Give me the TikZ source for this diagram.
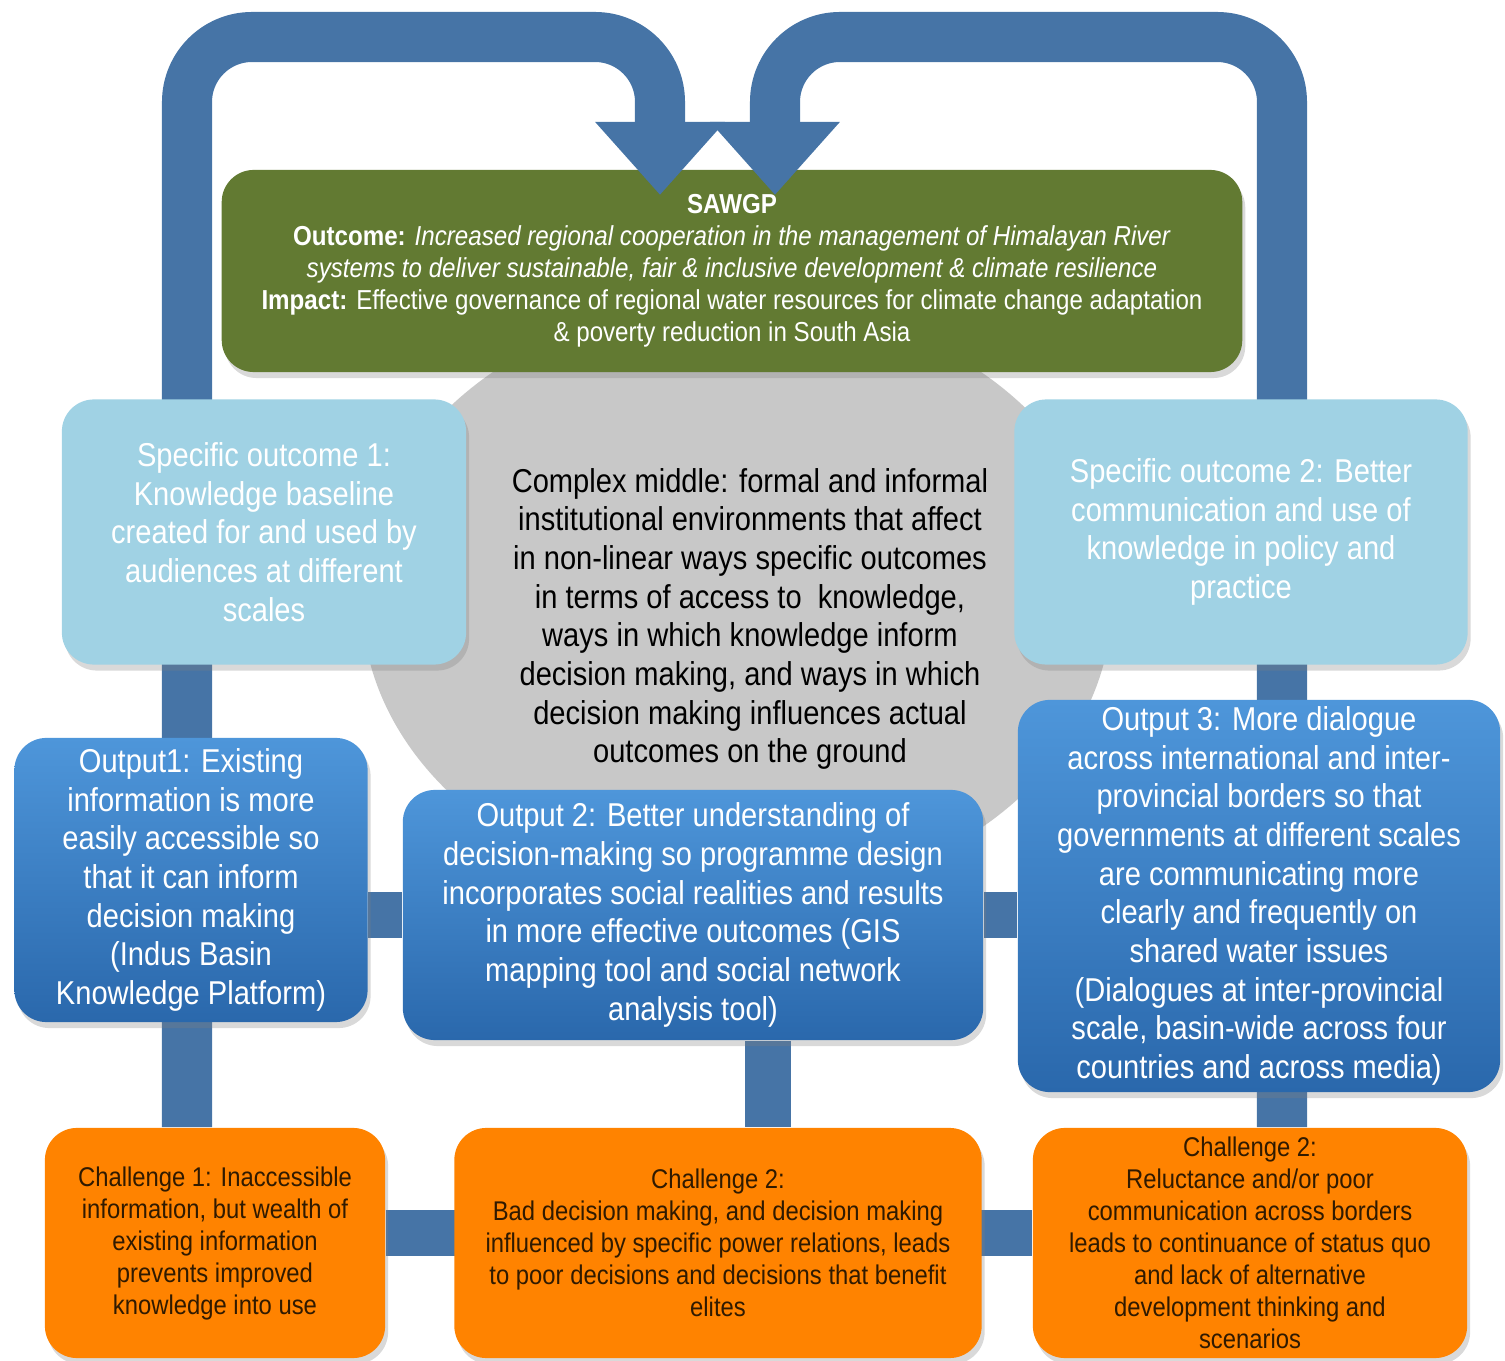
\documentclass[tikz,border=0pt]{standalone}
\usepackage{fontspec}
\setmainfont{Liberation Sans}[FakeStretch=0.88]
\usetikzlibrary{arrows.meta,shadows}

\definecolor{loopblue}{RGB}{70,116,166}
\definecolor{sawgpgreen}{RGB}{98,122,50}
\definecolor{solight}{RGB}{160,210,228}
\definecolor{optop}{RGB}{78,150,218}
\definecolor{opbot}{RGB}{42,104,172}
\definecolor{chorange}{RGB}{255,131,0}
\definecolor{chtext}{RGB}{48,26,0}
\definecolor{midgrey}{RGB}{200,200,200}

\pgfdeclarelayer{back}
\pgfdeclarelayer{bars}
\pgfsetlayers{back,bars,main}

\begin{document}
\begin{tikzpicture}[x=0.01cm,y=-0.01cm,
  box/.style={rounded corners=0.32cm,align=center,inner sep=0pt,
    drop shadow={shadow xshift=0.03cm,shadow yshift=-0.06cm,opacity=0.3}},
  big/.style={font=\fontsize{9.4}{11}\selectfont},
  small/.style={font=\fontsize{7.7}{9.1}\selectfont},
  so/.style={box,big,fill=solight,text=white},
  op/.style={box,big,top color=optop,bottom color=opbot,text=white},
  ch/.style={box,small,fill=chorange,text=chtext},
  loopbar/.style={draw=loopblue,line width=0.5cm,-{Triangle[width=1.25cm,length=0.73cm]}},
  link/.style={draw=loopblue,line width=0.46cm}]
	\useasboundingbox (0,0) rectangle (1505,1361);

	\begin{pgfonlayer}{back}
	% complex middle
	\fill[midgrey] (737,600) ellipse [x radius=3.75cm,y radius=3cm];
	\node[box,fill=sawgpgreen,text=white,minimum width=10.2cm,minimum height=2.02cm,
		font=\fontsize{7.8}{9.1}\selectfont] (sawgp) at (732,271)
		{\textbf{SAWGP}\\
		\textbf{Outcome:} \textit{Increased regional cooperation in the management of Himalayan River}\\
		\textit{systems to deliver sustainable, fair \& inclusive development \& climate resilience}\\
		\textbf{Impact:} Effective governance of regional water resources for climate change adaptation\\
		\& poverty reduction in South Asia};
	\end{pgfonlayer}

	\node[big,align=center] (mid) at (750,619) {Complex middle: formal and informal\\
		institutional environments that affect\\in non-linear ways specific outcomes\\
		in terms of access to\ \ knowledge,\\ways in which knowledge inform\\
		decision making, and ways in which\\decision making influences actual\\
		outcomes on the ground};

	\node[so,minimum width=4.04cm,minimum height=2.65cm] (so_1) at (264,532)
		{Specific outcome 1:\\Knowledge baseline\\created for and used by\\audiences at different\\scales};
	\node[so,minimum width=4.53cm,minimum height=2.65cm] (so_2) at (1241,532)
		{Specific outcome 2: Better\\communication and use of\\knowledge in policy and\\practice};

	\node[op,minimum width=3.53cm,minimum height=2.84cm] (op_1) at (191,880)
		{Output1: Existing\\information is more\\easily accessible so\\that it can inform\\decision making\\(Indus Basin\\Knowledge Platform)};
	\node[op,minimum width=5.8cm,minimum height=2.5cm] (op_2) at (693,915)
		{Output 2: Better understanding of\\decision-making so programme design\\incorporates social realities and results\\
		in more effective outcomes (GIS\\mapping tool and social network\\analysis tool)};
	\node[op,minimum width=4.82cm,minimum height=3.92cm] (op_3) at (1259,896)
		{Output 3: More dialogue\\across international and inter-\\provincial borders so that\\governments at different scales\\
		are communicating more\\clearly and frequently on\\shared water issues\\(Dialogues at inter-provincial\\
		scale, basin-wide across four\\countries and across media)};

	\node[ch,minimum width=3.4cm,minimum height=2.3cm] (ch_1) at (215,1243)
		{Challenge 1: Inaccessible\\information, but wealth of\\existing information\\prevents improved\\knowledge into use};
	\node[ch,minimum width=5.27cm,minimum height=2.3cm] (ch_2) at (718,1243)
		{Challenge 2:\\Bad decision making, and decision making\\influenced by specific power relations, leads\\to poor decisions and decisions that benefit\\elites};
	\node[ch,minimum width=4.34cm,minimum height=2.3cm] (ch_3) at (1250,1243)
		{Challenge 2:\\Reluctance and/or poor\\communication across borders\\leads to continuance of status quo\\and lack of alternative\\development thinking and\\scenarios};

	% the two loops and the links
	\coordinate (lbar) at (187,37);
	\coordinate (rbar) at (1282,37);
	\coordinate (tipL) at (660,195);
	\coordinate (tipR) at (775,195);
	\begin{pgfonlayer}{bars}
	\draw[loopbar,rounded corners=0.65cm] (ch_1.north -| lbar) -- (lbar) -- (tipL |- lbar) [rounded corners=0.85cm] -- (tipL);
	\draw[loopbar,rounded corners=0.65cm] (ch_3.north -| rbar) -- (rbar) -- (tipR |- rbar) [rounded corners=0.85cm] -- (tipR);
	\draw[link] (op_2.west) -- (op_2.west -| op_1.east);
	\draw[link] (op_2.east) -- (op_2.east -| op_3.west);
	\draw[link] ([xshift=0.75cm]op_2.south) -- ([xshift=0.75cm]op_2.south |- ch_2.north);
	\draw[link] ([yshift=0.1cm]ch_1.east) -- ([yshift=0.1cm]ch_3.west);
	\end{pgfonlayer}
\end{tikzpicture}
\end{document}
